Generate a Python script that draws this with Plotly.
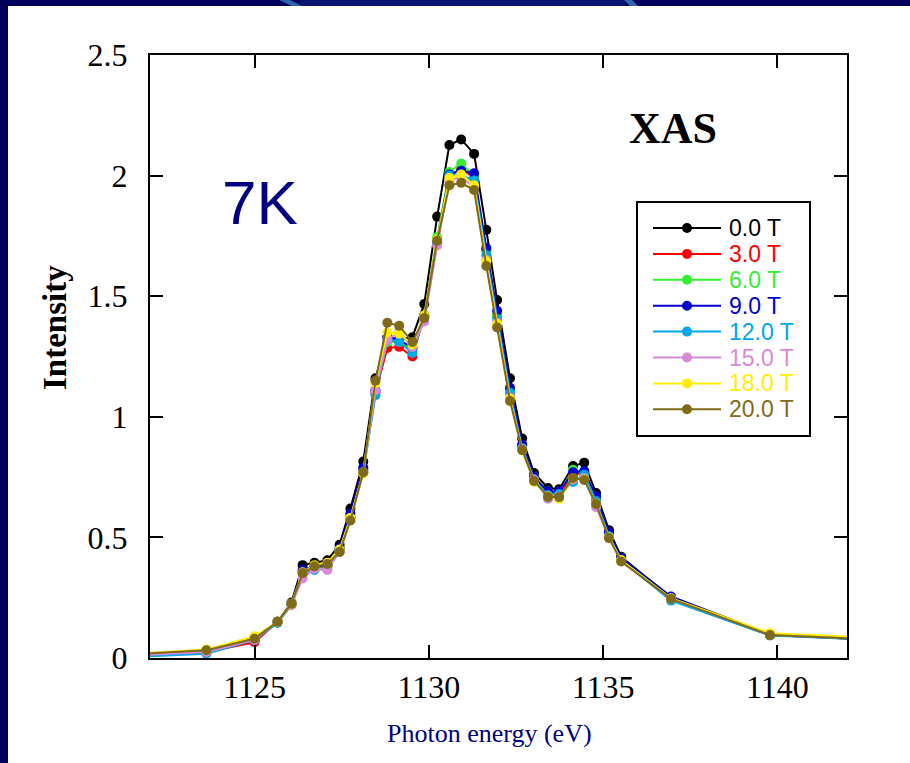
import plotly.graph_objects as go

energy = [1120.0, 1123.62, 1125.00, 1125.66, 1126.06, 1126.38, 1126.72, 1127.09, 1127.44, 1127.75,
          1128.12, 1128.47, 1128.81, 1129.15, 1129.53, 1129.87, 1130.24, 1130.59, 1130.93, 1131.30,
          1131.65, 1131.96, 1132.33, 1132.68, 1133.02, 1133.42, 1133.74, 1134.14, 1134.46, 1134.80,
          1135.17, 1135.52, 1136.95, 1139.79, 1145.0]

int_0T = [0.000, 0.030, 0.080, 0.150, 0.230, 0.385, 0.395, 0.405, 0.470, 0.620, 0.815, 1.160, 1.330, 1.320,
          1.330, 1.468, 1.830, 2.127, 2.150, 2.090, 1.775, 1.484, 1.160, 0.910, 0.767, 0.705, 0.700, 0.796,
          0.810, 0.684, 0.530, 0.420, 0.250, 0.095, 0.062]
int_3T = [0.000, 0.025, 0.065, 0.150, 0.225, 0.360, 0.375, 0.380, 0.445, 0.585, 0.780, 1.100, 1.285, 1.290,
          1.250, 1.420, 1.720, 2.000, 2.030, 1.990, 1.690, 1.420, 1.110, 0.880, 0.745, 0.680, 0.680, 0.760,
          0.770, 0.660, 0.510, 0.410, 0.250, 0.095, 0.062]
int_6T = [0.000, 0.025, 0.075, 0.150, 0.225, 0.360, 0.375, 0.385, 0.450, 0.590, 0.785, 1.110, 1.310, 1.310,
          1.280, 1.420, 1.745, 2.015, 2.050, 2.000, 1.690, 1.420, 1.110, 0.880, 0.750, 0.690, 0.685, 0.780,
          0.770, 0.665, 0.515, 0.410, 0.248, 0.097, 0.063]
int_9T = [0.000, 0.025, 0.075, 0.150, 0.225, 0.365, 0.380, 0.385, 0.455, 0.600, 0.790, 1.110, 1.330, 1.320,
          1.285, 1.420, 1.730, 2.005, 2.020, 2.010, 1.700, 1.440, 1.120, 0.885, 0.750, 0.690, 0.690, 0.770,
          0.775, 0.670, 0.520, 0.415, 0.255, 0.098, 0.065]
int_12T = [-0.005, 0.018, 0.075, 0.145, 0.220, 0.350, 0.365, 0.370, 0.440, 0.580, 0.770, 1.090, 1.320, 1.310,
           1.265, 1.410, 1.720, 2.000, 2.000, 1.980, 1.670, 1.405, 1.100, 0.870, 0.740, 0.675, 0.680, 0.730,
           0.760, 0.650, 0.505, 0.405, 0.238, 0.093, 0.063]
int_15T = [0.000, 0.025, 0.075, 0.150, 0.220, 0.330, 0.370, 0.365, 0.440, 0.580, 0.770, 1.110, 1.320, 1.350,
           1.290, 1.395, 1.710, 1.980, 1.995, 1.950, 1.650, 1.390, 1.080, 0.865, 0.740, 0.660, 0.670, 0.740,
           0.745, 0.625, 0.500, 0.405, 0.245, 0.097, 0.065]
int_18T = [0.005, 0.035, 0.090, 0.150, 0.225, 0.355, 0.385, 0.395, 0.450, 0.580, 0.765, 1.140, 1.350, 1.345,
           1.300, 1.420, 1.735, 1.990, 2.005, 1.960, 1.645, 1.385, 1.075, 0.860, 0.730, 0.670, 0.660, 0.745,
           0.740, 0.640, 0.500, 0.405, 0.248, 0.103, 0.070]
int_20T = [0.005, 0.032, 0.080, 0.150, 0.225, 0.352, 0.380, 0.390, 0.440, 0.570, 0.770, 1.150, 1.390, 1.377,
           1.310, 1.410, 1.730, 1.960, 1.970, 1.940, 1.625, 1.370, 1.066, 0.862, 0.734, 0.668, 0.667, 0.746,
           0.738, 0.638, 0.497, 0.400, 0.245, 0.095, 0.065]

series_names = ["0.0 T", "3.0 T", "6.0 T", "9.0 T", "12.0 T", "15.0 T", "18.0 T", "20.0 T"]
series_values = [int_0T, int_3T, int_6T, int_9T, int_12T, int_15T, int_18T, int_20T]
series_colors = ["#000000", "#ff0000", "#33ee33", "#0000d0", "#00a8e8", "#d88ad8", "#ffee00", "#7f6a18"]

x_ticks = [1125, 1130, 1135, 1140]
y_ticks = [0, 0.5, 1, 1.5, 2, 2.5]
y_ticklabels = ["0", "0.5", "1", "1.5", "2", "2.5"]

W, H = 910, 763
L, R, T, B = 150, 63, 55, 105
PW, PH = W - L - R, H - T - B


def px_x(px):
    return (px - L) / PW


def px_y(py):
    return (H - B - py) / PH


fig = go.Figure()
for name, vals, col in zip(series_names, series_values, series_colors):
    fig.add_trace(go.Scatter(
        x=energy, y=vals, name=name, mode="lines+markers",
        line=dict(color=col, width=2),
        marker=dict(color=col, size=10, line=dict(width=0)),
        showlegend=False, cliponaxis=True,
    ))

shapes = []
navy = "#00005a"
shapes.append(dict(type="rect", xref="paper", yref="paper", layer="below",
                   x0=px_x(0), x1=px_x(8), y0=px_y(H), y1=px_y(0),
                   fillcolor=navy, line=dict(width=0)))
shapes.append(dict(type="rect", xref="paper", yref="paper", layer="below",
                   x0=px_x(0), x1=px_x(W), y0=px_y(6), y1=px_y(0),
                   fillcolor=navy, line=dict(width=0)))
shapes.append(dict(type="rect", xref="paper", yref="paper", layer="below",
                   x0=px_x(300), x1=px_x(625), y0=px_y(6), y1=px_y(0),
                   fillcolor="#0a1670", line=dict(width=0)))
shapes.append(dict(type="path", xref="paper", yref="paper", layer="below",
                   path=f"M {px_x(279)} {px_y(0)} L {px_x(290)} {px_y(0)} L {px_x(302)} {px_y(6)} L {px_x(292)} {px_y(6)} Z",
                   fillcolor="#2f64a8", line=dict(width=0)))
shapes.append(dict(type="path", xref="paper", yref="paper", layer="below",
                   path=f"M {px_x(624)} {px_y(0)} L {px_x(632)} {px_y(0)} L {px_x(638)} {px_y(6)} L {px_x(630)} {px_y(6)} Z",
                   fillcolor="#2f64a8", line=dict(width=0)))

# legend box drawn by hand
box_l, box_r, box_t, box_b = 637, 810, 202, 436
shapes.append(dict(type="rect", xref="paper", yref="paper",
                   x0=px_x(box_l), x1=px_x(box_r), y0=px_y(box_b), y1=px_y(box_t),
                   fillcolor="white", line=dict(color="black", width=2)))
annotations = []
for i, (name, col) in enumerate(zip(series_names, series_colors)):
    yy = px_y(228 + 25.9 * i)
    shapes.append(dict(type="line", xref="paper", yref="paper",
                       x0=px_x(653), x1=px_x(721), y0=yy, y1=yy,
                       line=dict(color=col, width=2)))
    shapes.append(dict(type="circle", xref="paper", yref="paper",
                       xsizemode="pixel", ysizemode="pixel",
                       xanchor=px_x(687), yanchor=yy, x0=-5, x1=5, y0=-5, y1=5,
                       fillcolor=col, line=dict(color=col, width=0)))
    annotations.append(dict(text=name, xref="paper", yref="paper", x=px_x(727), y=yy,
                            xanchor="left", yanchor="middle", showarrow=False,
                            font=dict(family="Liberation Sans, Arial", size=23, color=col)))

annotations.append(dict(text="<b>XAS</b>", xref="paper", yref="paper", x=px_x(673), y=px_y(128),
                        xanchor="center", yanchor="middle", showarrow=False,
                        font=dict(family="Liberation Serif, Times New Roman", size=44, color="black")))
annotations.append(dict(text="7K", xref="paper", yref="paper", x=px_x(260), y=px_y(202),
                        xanchor="center", yanchor="middle", showarrow=False,
                        font=dict(family="Liberation Sans, Arial", size=62, color="#000080")))
annotations.append(dict(text="<b>Intensity</b>", xref="paper", yref="paper", x=px_x(55), y=px_y(328),
                        xanchor="center", yanchor="middle", showarrow=False, textangle=-90,
                        font=dict(family="Liberation Serif, Times New Roman", size=33, color="black")))
annotations.append(dict(text="Photon energy (eV)", xref="paper", yref="paper", x=px_x(489), y=px_y(733),
                        xanchor="center", yanchor="middle", showarrow=False,
                        font=dict(family="Liberation Serif, Times New Roman", size=26, color="#000080")))

fig.update_layout(
    width=W, height=H,
    margin=dict(l=L, r=R, t=T, b=B, pad=0),
    paper_bgcolor="white", plot_bgcolor="white",
    shapes=shapes, annotations=annotations,
    showlegend=False,
    xaxis=dict(range=[1122, 1142], tickvals=x_ticks, ticks="inside", ticklen=13, tickwidth=2,
               tickcolor="black", showline=True, linecolor="black", linewidth=2, mirror="ticks",
               showgrid=False, zeroline=False, ticklabelstandoff=0,
               tickfont=dict(family="Liberation Serif, Times New Roman", size=32, color="black")),
    yaxis=dict(range=[0, 2.5], tickvals=y_ticks, ticktext=y_ticklabels, ticks="inside", ticklen=13,
               tickwidth=2, tickcolor="black", showline=True, linecolor="black", linewidth=2,
               mirror="ticks", showgrid=False, zeroline=False, ticklabelstandoff=14,
               tickfont=dict(family="Liberation Serif, Times New Roman", size=32, color="black")),
)

fig.write_html("out.html")
